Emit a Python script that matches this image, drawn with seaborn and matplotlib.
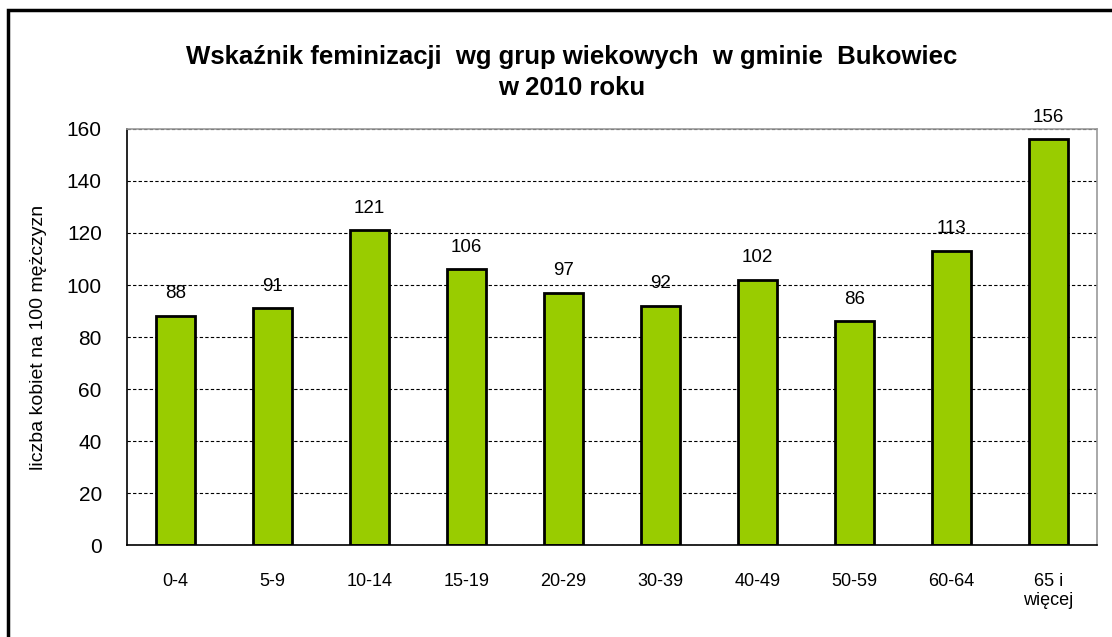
import numpy as np
import seaborn as sns
import matplotlib.pyplot as plt
from matplotlib.patches import Rectangle
from matplotlib.ticker import FixedLocator

groups = ['0-4', '5-9', '10-14', '15-19', '20-29', '30-39', '40-49', '50-59', '60-64', '65 i\nwięcej']
values = [88, 91, 121, 106, 97, 92, 102, 86, 113, 156]

sns.set_style('white')
plt.rcParams['font.family'] = ['Liberation Sans', 'DejaVu Sans']
plt.rcParams['text.color'] = 'black'
plt.rcParams['axes.labelcolor'] = 'black'
plt.rcParams['xtick.color'] = 'black'
plt.rcParams['ytick.color'] = 'black'

fig = plt.figure(figsize=(11.12, 6.37), dpi=100)
ax = fig.add_axes([0.114, 0.1444, 0.8725, 0.6531])

sns.barplot(x=groups, y=values, color='#99CC00', saturation=1, width=0.4,
            edgecolor='black', linewidth=2, ax=ax)
ax.bar_label(ax.containers[0], labels=[str(v) for v in values], padding=10, fontsize=13.5)

ax.set_ylim(0, 160)
ax.set_xlim(-0.5, len(groups) - 0.5)
ax.set_yticks(np.arange(0, 161, 20))
ax.yaxis.grid(True, color='black', linestyle=(0, (3, 2)), linewidth=0.8)
ax.set_axisbelow(True)

ax.tick_params(axis='y', direction='inout', length=8, width=1, labelsize=15, pad=14)
ax.tick_params(axis='x', which='major', length=0, labelsize=13, pad=20)
ax.xaxis.set_minor_locator(FixedLocator(np.arange(-0.5, len(groups), 1)))
ax.tick_params(axis='x', which='minor', direction='out', length=6, width=1)

for s in ['left', 'bottom']:
    ax.spines[s].set_color('black')
    ax.spines[s].set_linewidth(1.2)
for s in ['top', 'right']:
    ax.spines[s].set_color('#999999')
    ax.spines[s].set_linewidth(1.2)

ax.set_ylabel('liczba kobiet na 100 mężczyzn', fontsize=14, labelpad=14)

fig.text(0.514, 0.886, 'Wskaźnik feminizacji  wg grup wiekowych  w gminie  Bukowiec\nw 2010 roku',
         ha='center', va='center', fontsize=18.5, fontweight='bold', linespacing=1.35)

fig.patches.append(Rectangle((8 / 1112, -0.05), 1.0, 0.984 + 0.05, transform=fig.transFigure,
                             fill=False, edgecolor='black', linewidth=2.5, clip_on=False))

fig.savefig('out.png', dpi=100)
